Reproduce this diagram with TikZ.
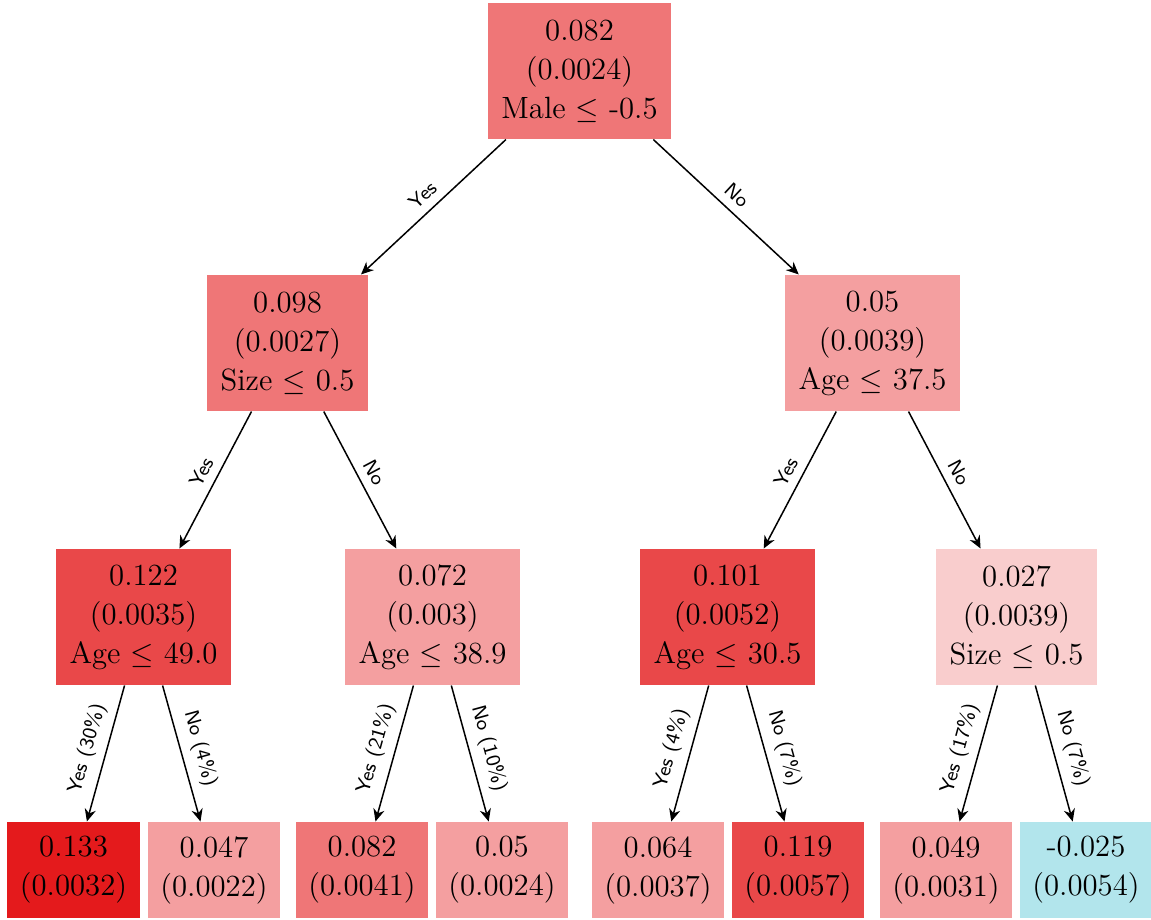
\documentclass[tikz,border=0pt]{standalone}
\usepackage{amssymb}
\usepackage{tikz}
\usetikzlibrary{arrows.meta}
\tikzset{>={Stealth[width=4.5pt,length=5pt]}}
\definecolor{setred}{HTML}{E41A1C}
\definecolor{setcyan}{HTML}{B2E5EC}
\tikzset{
  splitnode/.style={align=center, inner xsep=5.5pt, minimum height=54.4pt,
    font={\fontsize{12.3}{15.6}\selectfont}},
  leafnode/.style={align=center, inner xsep=5pt, minimum height=38.4pt,
    font={\fontsize{12.3}{15.6}\selectfont}},
  edgelabel/.style={midway, above, sloped, font=\footnotesize\sffamily},
}

\begin{document}
\begin{tikzpicture}[x=0.4pt,y=-0.4pt]

  \newcommand\Ya{71}
  \newcommand\Yb{343}
  \newcommand\Yc{617}
  \newcommand\Yd{870}

  \useasboundingbox (0,0) rectangle (1151,919);

  %% splits
  \node[splitnode, fill=setred!60!white] (n1) at (579.5,\Ya)
  {0.082\\(0.0024)\\Male $\leq$ -0.5};

  \node[splitnode, fill=setred!60!white] (n2) at (287.5,\Yb)
  {0.098\\(0.0027)\\Size $\leq$ 0.5};
  \node[splitnode, fill=setred!42!white] (n3) at (872.5,\Yb)
  {0.05\\(0.0039)\\Age $\leq$ 37.5};

  \node[splitnode, fill=setred!80!white] (n4) at (143.5,\Yc)
  {0.122\\(0.0035)\\Age $\leq$ 49.0};
  \node[splitnode, fill=setred!42!white] (n5) at (432.5,\Yc)
  {0.072\\(0.003)\\Age $\leq$ 38.9};
  \node[splitnode, fill=setred!80!white] (n6) at (727.5,\Yc)
  {0.101\\(0.0052)\\Age $\leq$ 30.5};
  \node[splitnode, fill=setred!22!white] (n7) at (1016.5,\Yc)
  {0.027\\(0.0039)\\Size $\leq$ 0.5};

  %% leaves
  \node[leafnode, fill=setred] (n8) at (73.5,\Yd) {0.133\\(0.0032)};
  \node[leafnode, fill=setred!42!white] (n9) at (214,\Yd) {0.047\\(0.0022)};
  \node[leafnode, fill=setred!60!white] (n10) at (362,\Yd) {0.082\\(0.0041)};
  \node[leafnode, fill=setred!42!white] (n11) at (502,\Yd) {0.05\\(0.0024)};
  \node[leafnode, fill=setred!42!white] (n12) at (658,\Yd) {0.064\\(0.0037)};
  \node[leafnode, fill=setred!80!white] (n13) at (798,\Yd) {0.119\\(0.0057)};
  \node[leafnode, fill=setred!42!white] (n14) at (946,\Yd) {0.049\\(0.0031)};
  \node[leafnode, fill=setcyan] (n15) at (1086,\Yd) {-0.025\\(0.0054)};

  %% edges
  \draw[->, semithick] (n1) -- node[edgelabel]{Yes} (n2);
  \draw[->, semithick] (n1) -- node[edgelabel]{No} (n3);

  \draw[->, semithick] (n2) -- node[edgelabel]{Yes} (n4);
  \draw[->, semithick] (n2) -- node[edgelabel]{No} (n5);
  \draw[->, semithick] (n3) -- node[edgelabel]{Yes} (n6);
  \draw[->, semithick] (n3) -- node[edgelabel]{No} (n7);

  \draw[->, semithick] (n4) -- node[edgelabel]{Yes (30\%)} (n8);
  \draw[->, semithick] (n4) -- node[edgelabel]{No (4\%)} (n9);
  \draw[->, semithick] (n5) -- node[edgelabel]{Yes (21\%)} (n10);
  \draw[->, semithick] (n5) -- node[edgelabel]{No (10\%)} (n11);
  \draw[->, semithick] (n6) -- node[edgelabel]{Yes (4\%)} (n12);
  \draw[->, semithick] (n6) -- node[edgelabel]{No (7\%)} (n13);
  \draw[->, semithick] (n7) -- node[edgelabel]{Yes (17\%)} (n14);
  \draw[->, semithick] (n7) -- node[edgelabel]{No (7\%)} (n15);

\end{tikzpicture}
\end{document}
